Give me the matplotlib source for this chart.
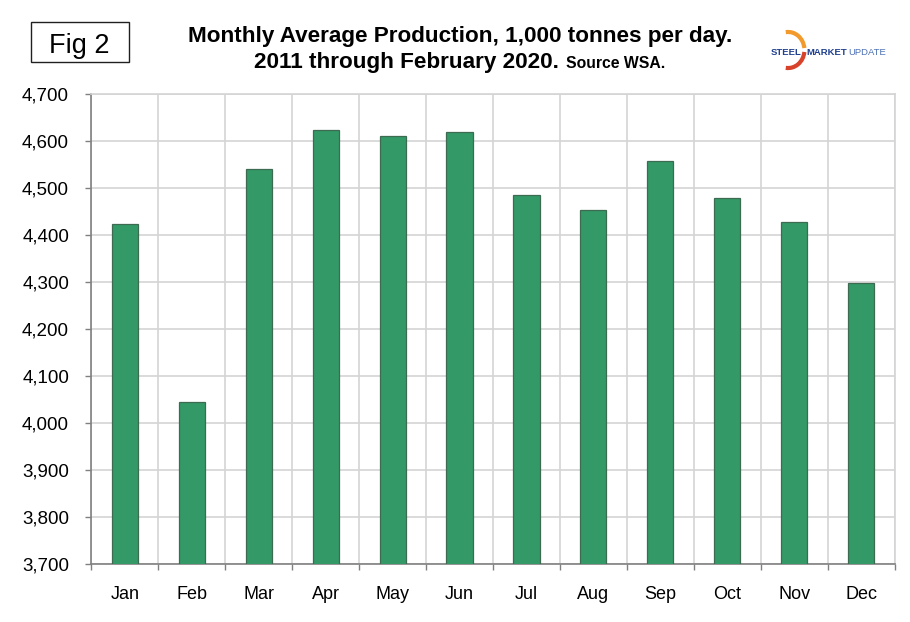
import numpy as np
import matplotlib
matplotlib.use('Agg')
import matplotlib.pyplot as plt
from matplotlib.patches import Rectangle, Arc
from matplotlib.ticker import FuncFormatter, MultipleLocator, FixedLocator

plt.rcParams['font.family'] = ['Liberation Sans', 'DejaVu Sans']

# --- data (1,000 tonnes per day, monthly average 2011 - Feb 2020) ---------
months = ['Jan', 'Feb', 'Mar', 'Apr', 'May', 'Jun',
          'Jul', 'Aug', 'Sep', 'Oct', 'Nov', 'Dec']
production = [4424, 4045, 4540, 4624, 4611, 4619,
              4486, 4454, 4558, 4479, 4427, 4298]

fig = plt.figure(figsize=(9.1, 6.22), dpi=100)
ax = fig.add_axes([0.1003, 0.0937, 0.8829, 0.7547])

x = np.arange(len(months))
ax.bar(x, production, width=0.39, color='#339966', edgecolor='#3d6b52',
       linewidth=0.9, zorder=3)

ax.set_xlim(-0.5, len(months) - 0.5)
ax.set_ylim(3700, 4700)
ax.yaxis.set_major_locator(MultipleLocator(100))
ax.yaxis.set_major_formatter(FuncFormatter(lambda v, p: f'{v:,.0f}'))

# category boundaries carry the vertical grid + tick marks
ax.set_xticks(x)
ax.set_xticklabels(months, fontsize=13)
ax.xaxis.set_minor_locator(FixedLocator(np.arange(-0.5, len(months), 1.0)))
ax.tick_params(axis='x', which='major', length=0, pad=16)
ax.tick_params(axis='x', which='minor', length=4.5, color='#808080', width=1)
ax.tick_params(axis='y', length=4.5, color='#808080', width=1,
               labelsize=13.5, pad=11.5)

ax.grid(True, axis='y', which='major', color='#d4d4d4', lw=1.2, zorder=0)
ax.grid(True, axis='x', which='minor', color='#d4d4d4', lw=1.2, zorder=0)
ax.grid(False, axis='x', which='major')

for side in ('left', 'bottom'):
    ax.spines[side].set_color('#808080')
    ax.spines[side].set_linewidth(1.2)
for side in ('top', 'right'):
    ax.spines[side].set_color('#d4d4d4')
    ax.spines[side].set_linewidth(1.2)

# --- header ---------------------------------------------------------------
fig.text(0.5055, 0.933, 'Monthly Average Production, 1,000 tonnes per day.',
         ha='center', va='baseline', fontsize=16.2, fontweight='bold')
fig.text(0.279, 0.8907, '2011 through February 2020.', ha='left',
         va='baseline', fontsize=16.2, fontweight='bold')
fig.text(0.622, 0.8907, 'Source WSA.', ha='left', va='baseline',
         fontsize=11.3, fontweight='bold')

fig.patches.append(Rectangle((0.0341, 0.8998), 0.1077, 0.0643,
                             transform=fig.transFigure, fill=False,
                             edgecolor='#202020', linewidth=1.0))
fig.text(0.087, 0.9143, 'Fig 2', ha='center', va='baseline', fontsize=19.5)

# logo: orange/red crescent behind the wordmark
fig.patches.append(Arc((0.866, 0.9196), 0.036, 0.058, theta1=10, theta2=95,
                       transform=fig.transFigure, color='#f39a2c', lw=3.0))
fig.patches.append(Arc((0.866, 0.9196), 0.036, 0.058, theta1=-95, theta2=-10,
                       transform=fig.transFigure, color='#d8412a', lw=3.0))
fig.text(0.847, 0.916, 'STEEL', ha='left', va='center', fontsize=6.8,
         fontweight='bold', color='#1f3f8f')
fig.text(0.886, 0.916, 'MARKET', ha='left', va='center', fontsize=6.8,
         fontweight='bold', color='#1f3f8f')
fig.text(0.932, 0.916, 'UPDATE', ha='left', va='center', fontsize=6.8,
         color='#4a6fb5')

fig.savefig('out.png', dpi=100)
